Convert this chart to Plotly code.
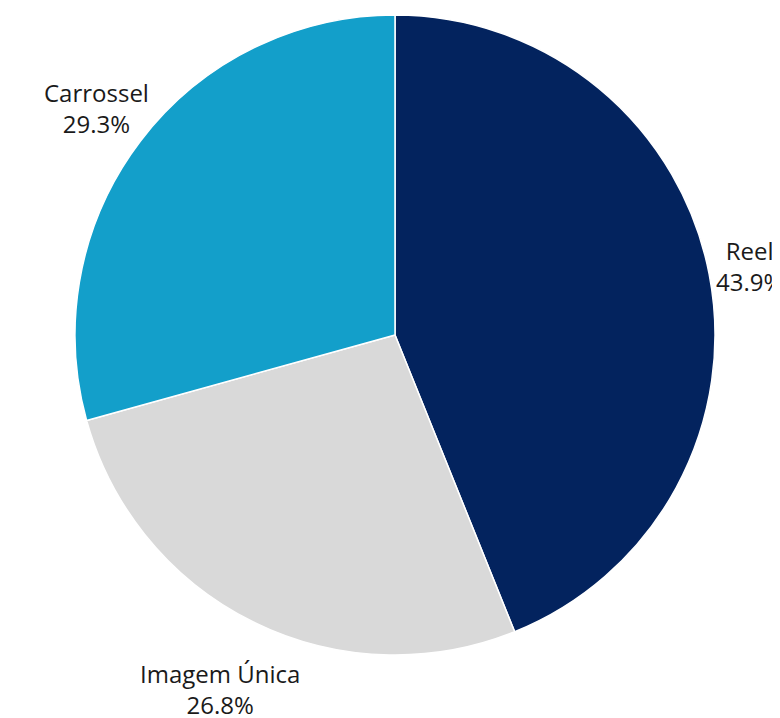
import math
import plotly.graph_objects as go

labels = ["Reel", "Imagem Única", "Carrossel"]
values = [43.9, 26.8, 29.3]
colors = ["#03235e", "#d9d9d9", "#139fca"]

W, H = 780, 718
# pie geometry in figure pixels (from top-left)
CX, CY, R = 387, 327, 320
label_dist = [1.127, 1.235, 1.171]

fig = go.Figure(go.Pie(
    labels=labels,
    values=values,
    sort=False,
    direction="clockwise",
    rotation=0,
    marker=dict(colors=colors, line=dict(color="white", width=1.5)),
    textinfo="none",
    showlegend=False,
    domain=dict(x=[(CX - R) / W, (CX + R) / W],
                y=[1 - (CY + R) / H, 1 - (CY - R) / H]),
    hoverinfo="label+percent",
))

total = sum(values)
cum = 0.0
font = dict(family="Open Sans", size=24, color="#1a1a1a")
for i, (lab, v) in enumerate(zip(labels, values)):
    mid = (cum + v / 2) / total * 2 * math.pi
    cum += v
    px = CX + label_dist[i] * R * math.sin(mid)
    py = CY - label_dist[i] * R * math.cos(mid)
    fig.add_annotation(x=px / W, y=1 - py / H, xref="paper", yref="paper",
                       text=f"{lab}<br>{v / total * 100:.1f}%",
                       showarrow=False, font=font, xanchor="center",
                       yanchor="middle", align="center")

fig.update_layout(
    width=W, height=H,
    margin=dict(l=0, r=0, t=0, b=0),
    paper_bgcolor="white",
    plot_bgcolor="white",
)

fig.write_html("out.html",
               post_script="document.body.style.overflow='hidden';")
